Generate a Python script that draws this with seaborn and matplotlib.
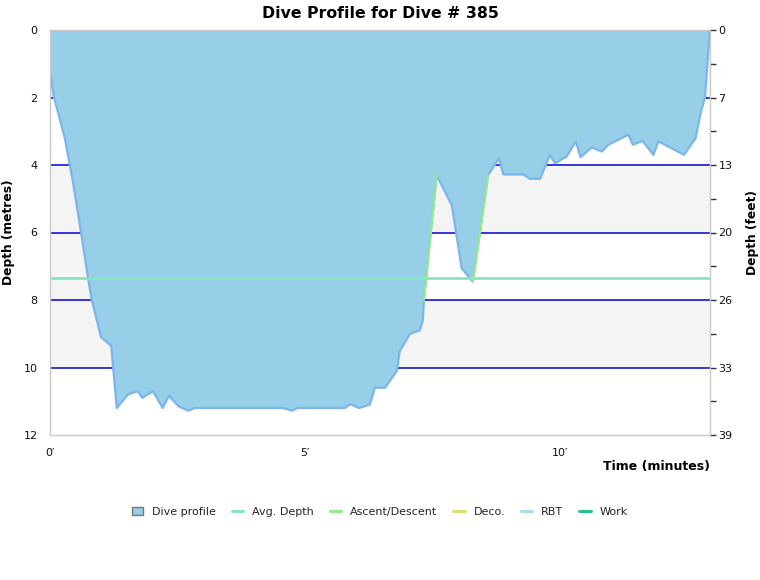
import numpy as np
import pandas as pd
import seaborn as sns
from matplotlib import pyplot as plt
from matplotlib.patches import Patch
from matplotlib.lines import Line2D

# profile: time in minutes, depth in metres
time_min = [0.0, 0.08, 0.29, 0.45, 0.63, 0.75, 0.82, 1.0, 1.2, 1.31, 1.53, 1.72,
            1.81, 2.02, 2.21, 2.33, 2.52, 2.71, 2.84, 4.57, 4.74, 4.86, 5.78, 5.88,
            6.06, 6.27, 6.37, 6.57, 6.8, 6.86, 7.06, 7.25, 7.31, 7.33, 7.58, 7.88,
            8.07, 8.29, 8.59, 8.8, 8.89, 9.28, 9.41, 9.61, 9.8, 9.9, 10.13, 10.31,
            10.4, 10.62, 10.82, 10.95, 11.34, 11.43, 11.62, 11.83, 11.93, 12.43,
            12.66, 12.75, 12.84, 12.9, 12.94]
depth_m = [1.3, 2.0, 3.2, 4.5, 6.2, 7.4, 8.0, 9.1, 9.36, 11.2, 10.8, 10.7,
           10.9, 10.7, 11.2, 10.84, 11.15, 11.28, 11.2, 11.2, 11.28, 11.2, 11.2, 11.09,
           11.2, 11.1, 10.6, 10.6, 10.1, 9.5, 9.0, 8.9, 8.6, 8.0, 4.3, 5.2,
           7.06, 7.46, 4.3, 3.8, 4.28, 4.28, 4.41, 4.41, 3.7, 3.95, 3.75, 3.3,
           3.77, 3.48, 3.6, 3.4, 3.1, 3.4, 3.29, 3.7, 3.3, 3.7,
           3.2, 2.5, 2.0, 0.75, 0.0]
avg_depth = 7.35
ascent_windows = [(7.33, 7.58), (8.29, 8.59)]
descent_end = 7.4  # the 6-8 m band is shaded only up to here

depth_ticks = list(range(0, 13, 2))
time_ticks = [0, 5, 10]
time_labels = ["0\u2032", "5\u2032", "10\u2032"]
feet_labels = [str(int(round(m * 3.28084))) for m in depth_ticks]

legend_names = ["Dive profile", "Avg. Depth", "Ascent/Descent", "Deco.", "RBT", "Work"]
legend_colors = ["#97cfe8", "#86e6bf", "#96ea8e", "#d9df6a", "#a8ddf6", "#2fbf8f"]

df = pd.DataFrame({"time": time_min, "depth": depth_m})

sns.set_style("white")
plt.rcParams["font.family"] = ["DejaVu Sans"]

fig = plt.figure(figsize=(7.6, 5.8), dpi=100)
ax = fig.add_axes([50 / 760, 1 - 435 / 580, 660 / 760, 405 / 580])
end_t = df["time"].max()

# grey bands and blue grid lines, both under the area
for lo in [0, 4, 8]:
    ax.axhspan(lo, lo + 2, color="#f4f4f4", lw=0, zorder=0.2)
ax.fill_between([0, descent_end], 6, 8, color="#f4f4f4", lw=0, zorder=0.2)
ax.hlines(depth_ticks[1:-1], 0, end_t, colors="#0000cc", lw=1.1, zorder=0.5)

ax.fill_between(df["time"], np.zeros(len(df)), df["depth"], facecolor="#97cfe8",
                edgecolor="none", zorder=5)
sns.lineplot(data=df, x="time", y="depth", ax=ax, color="#7cb5ec", lw=1.6, zorder=6)

avg_df = pd.DataFrame({"time": [0, end_t], "depth": [avg_depth, avg_depth]})
sns.lineplot(data=avg_df, x="time", y="depth", ax=ax, color="#86e6bf", lw=2, zorder=7)

for a, b in ascent_windows:
    seg = df[(df["time"] >= a) & (df["time"] <= b)]
    sns.lineplot(data=seg, x="time", y="depth", ax=ax, color="#96ea8e", lw=1.6, zorder=8)

ax.set_xlim(0, end_t)
ax.set_ylim(12, 0)
ax.set_yticks(depth_ticks)
ax.set_yticklabels([str(d) for d in depth_ticks], fontsize=8, color="#111111")
ax.set_xticks(time_ticks)
ax.set_xticklabels(time_labels, fontsize=8, color="#111111")
ax.tick_params(axis="both", length=0)
ax.tick_params(axis="y", pad=9)
ax.tick_params(axis="x", pad=9)
ax.set_ylabel("Depth (metres)", fontsize=8.8, fontweight="bold", labelpad=6, color="#000000")
ax.set_xlabel("Time (minutes)", fontsize=9, fontweight="bold", loc="right", labelpad=2,
              color="#000000")
for s in ax.spines.values():
    s.set_color("#cccccc")
    s.set_linewidth(1)

ax2 = ax.twinx()
ax2.set_ylim(12, 0)
ax2.set_yticks(range(13))
ax2.set_yticklabels([feet_labels[i // 2] if i % 2 == 0 else "" for i in range(13)],
                    fontsize=8, color="#111111")
ax2.tick_params(axis="y", length=4, width=1, color="#333333", pad=2)
ax2.set_ylabel("Depth (feet)", fontsize=8.8, fontweight="bold", labelpad=10, color="#000000")
for s in ax2.spines.values():
    s.set_color("#cccccc")

ax.set_title("Dive Profile for Dive # 385", fontsize=11.3, fontweight="bold", pad=9,
             color="#000000")

handles = [Patch(facecolor=legend_colors[0], edgecolor="#777777", lw=1)]
handles += [Line2D([], [], color=c, lw=2.2) for c in legend_colors[1:]]
fig.legend(handles, legend_names, loc="center", bbox_to_anchor=(0.5, 1 - 512 / 580),
           ncol=6, frameon=False, fontsize=8, handlelength=1.0, handleheight=0.8,
           columnspacing=1.45, handletextpad=0.8)

fig.savefig("out.png", dpi=100)
